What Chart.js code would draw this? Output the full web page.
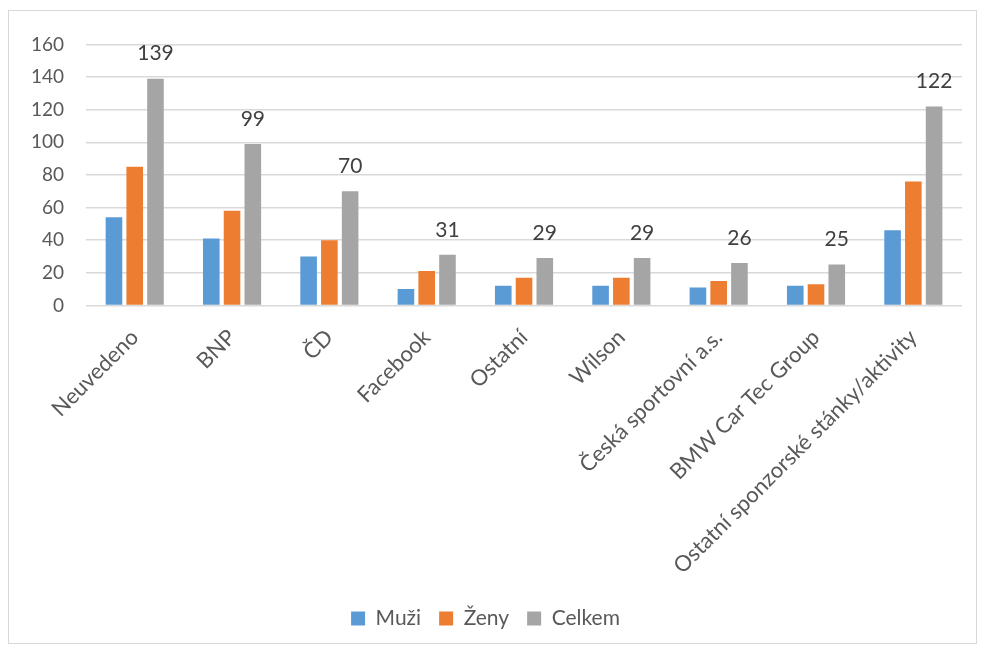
<!DOCTYPE html>
<html>
<head>
<meta charset="utf-8">
<script src="https://cdn.jsdelivr.net/npm/chart.js@4/dist/chart.umd.min.js"></script>
<style>
  html, body { margin: 0; padding: 0; background: #fff; }
  #frame {
    position: absolute; left: 8px; top: 10px; width: 969px; height: 634px;
    border: 1px solid #d9d9d9; box-sizing: border-box; background: #fff;
  }
  #chart { display: block; }
</style>
</head>
<body>
<div id="frame"><canvas id="chart" width="967" height="632"></canvas></div>
<script>
const categories = ["Neuvedeno", "BNP", "ČD", "Facebook", "Ostatní", "Wilson",
  "Česká sportovní a.s.", "BMW Car Tec Group", "Ostatní sponzorské stánky/aktivity"];
const muzi = [54, 41, 30, 10, 12, 12, 11, 12, 46];
const zeny = [85, 58, 40, 21, 17, 17, 15, 13, 76];
const celkem = [139, 99, 70, 31, 29, 29, 26, 25, 122];
const yTicks = [0, 20, 40, 60, 80, 100, 120, 140, 160];

const FONT = "Lato, 'Open Sans', sans-serif";

// values above the Celkem bars only
const totalLabels = {
  id: 'totalLabels',
  afterDatasetsDraw(chart) {
    const ctx = chart.ctx;
    const meta = chart.getDatasetMeta(2);
    ctx.save();
    ctx.font = "21px " + FONT;
    ctx.fillStyle = "#404040";
    ctx.textAlign = "center";
    ctx.textBaseline = "middle";
    meta.data.forEach(function (bar, i) {
      ctx.fillText(celkem[i], bar.x, bar.y - 25);
    });
    ctx.restore();
  }
};

new Chart(document.getElementById("chart").getContext("2d"), {
  type: 'bar',
  data: {
    labels: categories,
    datasets: [
      { label: "Muži", data: muzi, backgroundColor: "#5b9bd5" },
      { label: "Ženy", data: zeny, backgroundColor: "#ed7d31" },
      { label: "Celkem", data: celkem, backgroundColor: "#a5a5a5" }
    ]
  },
  options: {
    responsive: false,
    animation: false,
    layout: { padding: { top: 16, left: 0, right: 14, bottom: 4 } },
    datasets: { bar: { categoryPercentage: 0.64, barPercentage: 0.8 } },
    scales: {
      x: {
        grid: { display: false },
        border: { display: false },
        ticks: {
          color: "#595959", font: { family: FONT, size: 22 },
          minRotation: 45, maxRotation: 45, padding: 11
        }
      },
      y: {
        min: 0, max: 160,
        afterBuildTicks(axis) { axis.ticks = yTicks.map(v => ({ value: v })); },
        grid: { color: "#d9d9d9", lineWidth: 1.5, drawTicks: false },
        border: { display: false },
        ticks: { color: "#595959", font: { family: FONT, size: 19 }, padding: 22 }
      }
    },
    plugins: {
      legend: {
        position: 'bottom',
        labels: {
          color: "#595959", font: { family: FONT, size: 21 },
          boxWidth: 14, boxHeight: 14, padding: 18
        }
      },
      tooltip: { enabled: false }
    }
  },
  plugins: [totalLabels]
});
</script>
</body>
</html>
